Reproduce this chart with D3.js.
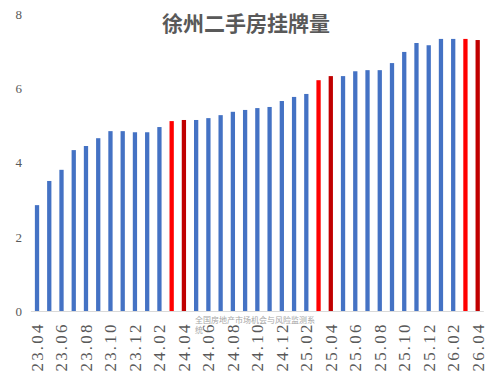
<!DOCTYPE html>
<html><head><meta charset="utf-8">
<script src="https://cdn.jsdelivr.net/npm/d3@7"></script>
<style>html,body{margin:0;padding:0;background:#fff;}svg{display:block;}</style>
</head><body>
<svg id="c" width="496" height="386"></svg>
<script>
const months = ["23.04","23.05","23.06","23.07","23.08","23.09","23.10","23.11","23.12","24.01","24.02","24.03","24.04","24.05","24.06","24.07","24.08","24.09","24.10","24.11","24.12","25.01","25.02","25.03","25.04","25.05","25.06","25.07","25.08","25.09","25.10","25.11","25.12","26.01","26.02","26.03","26.04"];
const values = [2.86,3.51,3.81,4.34,4.45,4.66,4.85,4.85,4.82,4.82,4.96,5.12,5.15,5.15,5.20,5.28,5.37,5.42,5.47,5.50,5.66,5.77,5.85,6.22,6.33,6.33,6.46,6.49,6.49,6.68,6.98,7.22,7.16,7.33,7.33,7.33,7.30];
const highlightRed = ["24.03","25.03","26.03"];
const highlightDark = ["24.04","25.04","26.04"];
const yTicks = [0,2,4,6,8];
const tickLabels = months.filter((m,i)=>i%2===0);
const title = "徐州二手房挂牌量";
const watermark = ["全国房地产市场机会与风险监测系","统"];

const svg = d3.select("#c");
const x = d3.scaleBand().domain(months).range([30.9,483.8]).paddingInner(0.65).paddingOuter(0.325);
const y = d3.scaleLinear().domain([0,8]).range([311.5,14]);

// bars
svg.append("g").selectAll("rect").data(months).join("rect")
  .attr("x", d=>x(d)).attr("width", x.bandwidth())
  .attr("y", (d,i)=>y(values[i])).attr("height", (d,i)=>y(0)-y(values[i]))
  .attr("fill", d=> highlightRed.includes(d) ? "#FF0000" : highlightDark.includes(d) ? "#C00000" : "#4472C4");

// x axis line
svg.append("line").attr("x1",30.9).attr("x2",483.8).attr("y1",311.5).attr("y2",311.5)
  .attr("stroke","#D9D9D9").attr("stroke-width",1);

// y axis labels
const yAxis = d3.axisLeft(y).tickValues(yTicks).tickSize(0).tickPadding(0);
const gy = svg.append("g").attr("transform","translate(22,0)").call(yAxis);
gy.select(".domain").remove();
gy.selectAll("text").attr("font-family","'Liberation Serif','DejaVu Serif',serif").attr("font-size",13).attr("fill","#595959");

// x axis labels
const xAxis = d3.axisBottom(x).tickValues(tickLabels).tickSize(0).tickPadding(0);
const gx = svg.append("g").attr("transform",`translate(0,${y(0)})`).call(xAxis);
gx.select(".domain").remove();
gx.selectAll("text")
  .attr("font-family","'Liberation Serif','DejaVu Serif',serif").attr("font-size",17).attr("fill","#595959")
  .attr("transform","rotate(-90)").attr("x",-13).attr("y",0).attr("dy","0.35em")
  .attr("text-anchor","end").attr("textLength",47).attr("lengthAdjust","spacing");

// title
svg.append("text").attr("x",246).attr("y",31).attr("text-anchor","middle")
  .attr("font-family","'Noto Sans CJK SC',sans-serif").attr("font-weight","bold").attr("font-size",21)
  .attr("fill","#595959").text(title);

// watermark
svg.append("g").selectAll("text").data(watermark).join("text")
  .attr("x",195).attr("y",(d,i)=>323+i*9.5)
  .attr("font-family","'Noto Sans CJK SC',sans-serif").attr("font-size",8).attr("fill","#A6A6A6")
  .text(d=>d);
</script>
</body></html>
